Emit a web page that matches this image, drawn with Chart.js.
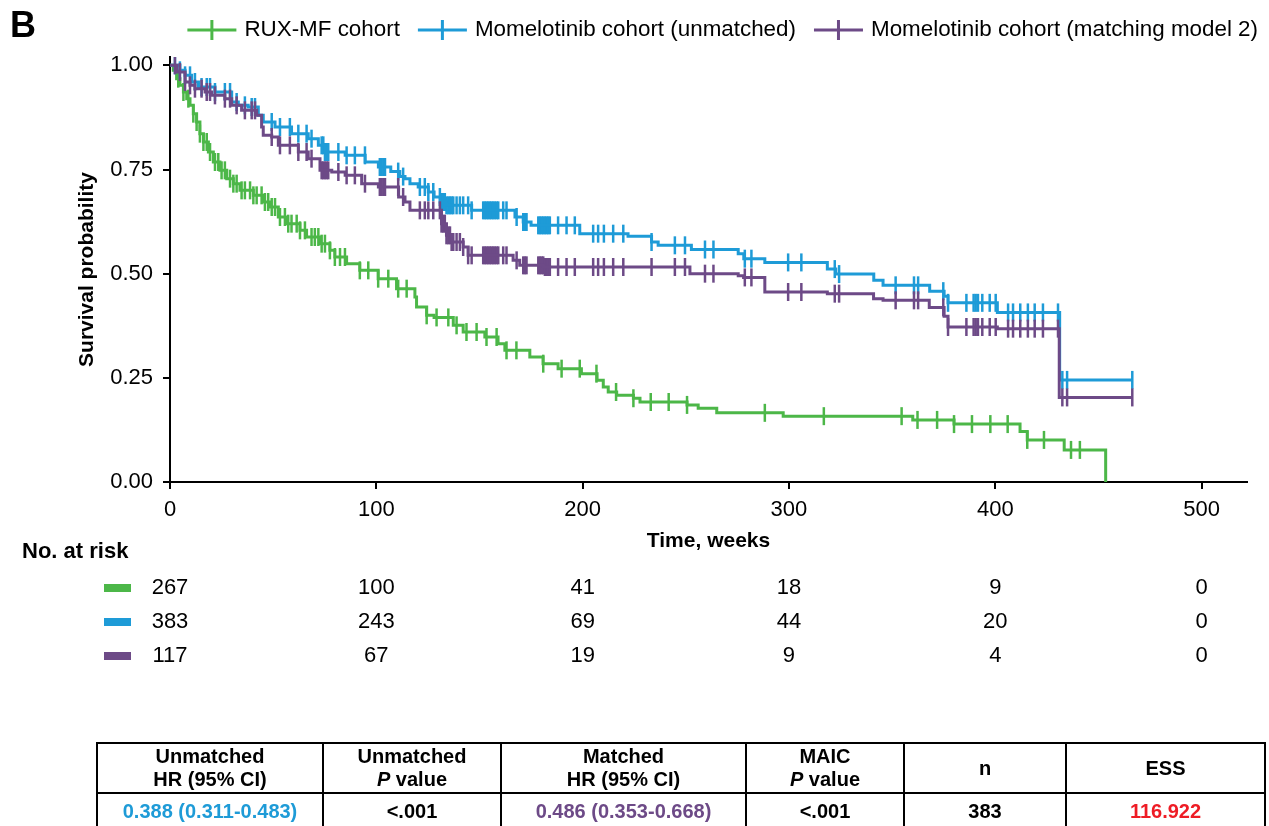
<!DOCTYPE html>
<html>
<head>
<meta charset="utf-8">
<script src="https://cdn.jsdelivr.net/npm/chart.js@4.4.0/dist/chart.umd.min.js"></script>
<style>
  body { margin: 0; background: #fff; font-family: "Liberation Sans", Arial, sans-serif; }
  #wrap { position: relative; width: 1269px; height: 826px; overflow: hidden; }
  #wrap canvas { position: absolute; left: 0; top: 0; }
  table.hr { position: absolute; left: 96px; top: 742px; border-collapse: collapse; table-layout: fixed;
             font-weight: bold; font-size: 20px; color: #000; }
  table.hr td { border: 2px solid #000; text-align: center; padding: 0; line-height: 23px; }
  table.hr tr.head td { height: 48px; }
  table.hr tr.vals td { height: 35px; }
</style>
</head>
<body>
<div id="wrap">
  <canvas id="km" width="1269" height="826"></canvas>
  <table class="hr" id="hrTable"></table>
</div>
<script>
// ---- data ----
const panelLetter = "B"
const seriesNames = ["RUX-MF cohort", "Momelotinib cohort (unmatched)", "Momelotinib cohort (matching model 2)"]
const seriesColors = ["#4cb748", "#1e9bd7", "#6d4a87"]

// [weeks, survival] after each drop
const ruxSteps = [[0,1],[1.6,0.988],[3.2,0.968],[4.8,0.952],[6.5,0.936],[8.1,0.920],[9.7,0.904],[11.3,0.884],[12.9,0.864],
  [14.5,0.836],[16.2,0.816],[18.6,0.792],[21,0.768],[24.2,0.748],[27.5,0.728],[30.7,0.716],[33.9,0.700],[40.4,0.688],
  [45.2,0.672],[48.4,0.660],[52.5,0.636],[56.5,0.620],[63,0.604],[66.2,0.588],[72.7,0.572],[77.5,0.556],[79.9,0.540],
  [85.6,0.524],[92,0.508],[100.9,0.488],[109.8,0.464],[118.7,0.444],[119.5,0.420],[124.4,0.400],[128,0.395],[137.3,0.376],
  [142.1,0.360],[152.6,0.348],[159,0.332],[162.3,0.316],[174.4,0.300],[180.8,0.284],[188.1,0.272],[199.4,0.260],[207,0.244],
  [210,0.228],[212.4,0.216],[216.5,0.208],[224.6,0.201],[227.8,0.192],[250.6,0.185],[256,0.177],[265,0.166],[297.2,0.158],
  [360,0.149],[380,0.139],[412,0.121],[415.5,0.101],[433.4,0.077],[453.5,0]]

const momSteps = [[0,1],[4.8,0.988],[7.3,0.976],[10.5,0.960],[13.8,0.948],[21.8,0.936],[29.9,0.912],[33.1,0.904],[37.9,0.900],
  [42.8,0.880],[45.2,0.864],[50.9,0.852],[58.9,0.836],[67,0.824],[71.9,0.808],[75,0.792],[84.9,0.784],[94.6,0.768],[101,0.756],
  [107,0.745],[111.4,0.733],[113.9,0.728],[116.3,0.716],[120.3,0.708],[125.2,0.696],[128,0.684],[131,0.672],[134,0.664],
  [146.2,0.652],[167.2,0.636],[171.2,0.624],[175,0.616],[198.6,0.596],[222,0.590],[233.4,0.576],[236.6,0.568],[252.7,0.558],
  [275.4,0.548],[278.1,0.536],[288.3,0.527],[318.6,0.511],[322.7,0.499],[341.1,0.484],[345.6,0.472],[368.2,0.458],
  [375.2,0.446],[377.1,0.430],[401,0.407],[431.2,0.245],[466.4,0.245]]

const matchSteps = [[0,1],[3.4,0.984],[7.3,0.960],[9.7,0.952],[12.1,0.944],[17,0.936],[20.2,0.928],[26.6,0.920],[29.9,0.904],
  [34.7,0.892],[42,0.880],[44.4,0.852],[45.2,0.832],[49.3,0.828],[52.5,0.808],[62.2,0.792],[67,0.776],[72.7,0.748],
  [78.4,0.744],[84.9,0.736],[92.9,0.716],[101,0.708],[110.8,0.684],[113.9,0.672],[116.3,0.652],[131.6,0.620],[134,0.592],
  [136.5,0.576],[142.1,0.564],[144.5,0.544],[166.3,0.532],[169.5,0.520],[181,0.516],[252,0.500],[275.4,0.495],[278,0.491],
  [288.3,0.456],[318.6,0.452],[341,0.440],[345.6,0.436],[368,0.419],[375.2,0.398],[377.1,0.372],[401,0.368],[431,0.203],
  [466.4,0.203]]

// censoring times (weeks)
const ruxCensor = [4,6.5,8.9,11.3,12.9,14.5,16.2,17.8,19.4,21.8,23.4,25,26.6,29.1,30.7,32.3,34.7,36.3,38.8,40.4,42,44.4,46,
  47.6,49.3,50.9,53.3,55.7,57.3,58.9,61.4,63,65.4,68.6,70.2,71.9,73.5,75.1,77.5,79.9,82.4,84.8,92,96.1,100.9,105.8,110.6,
  114.7,124.4,129.2,134.9,138.9,143.7,148.6,153.4,158.3,163.1,167.9,180.9,189.8,198.6,206.7,216.2,224.6,233,241.7,250.6,
  288.3,316.9,354.6,362.3,371.8,380,388.7,397.6,406,415.5,423.6,436.7,441]

const momCensor = [2.4,4.8,7.3,9.7,12.1,15.3,17.8,19.4,21.8,26.6,29.1,32.3,36.3,39.6,41.2,49.3,53.3,58.1,62.2,66.2,68.6,73.5,
  74.3,75.1,75.9,76.7,81.6,85.6,89.6,94.5,101.7,102.5,103.4,104.2,110.6,113,121.1,123.5,125.2,127.6,130.8,131.6,132.4,133.2,
  134,134.9,135.7,136.5,137.3,138.9,140.5,142.1,144.5,146.2,151.8,152.6,153.4,154.2,155,155.8,156.6,157.4,158.3,159.1,161.5,
  163.1,168,171.2,172,172.8,178.5,179.3,180.1,180.9,181.7,182.5,183.3,184.1,188.1,192.2,196.2,205.1,207.5,210.3,214.8,219.7,
  233.4,244.7,249.6,259.3,263.4,278.6,281.8,299.6,306,322.2,324.3,351.7,360.6,362.6,374.8,377.1,386,389.5,390.5,391.6,393.7,
  397.3,400.2,406.2,408.6,412.1,415.8,419.1,423.1,430.4,432.5,434.8,466.4]
const matchCensor = momCensor

const xTicks = [0, 100, 200, 300, 400, 500]
const yTicks = [0, 0.25, 0.5, 0.75, 1]

const riskTimes = [0, 100, 200, 300, 400, 500]
const riskRux = [267, 100, 41, 18, 9, 0]
const riskMom = [383, 243, 69, 44, 20, 0]
const riskMatch = [117, 67, 19, 9, 4, 0]

const hrHeaders = ["Unmatched<br>HR (95% CI)", "Unmatched<br><i>P</i> value", "Matched<br>HR (95% CI)", "MAIC<br><i>P</i> value", "n", "ESS"]
const hrValues = ["0.388 (0.311-0.483)", "<.001", "0.486 (0.353-0.668)", "<.001", "383", "116.922"]
const hrValueColors = ["#1e9bd7", "#000", "#6d4a87", "#000", "#000", "#ee1c25"]
const hrColWidths = [226, 178, 245, 158, 162, 199]

// ---- helpers ----
const FONT = "'Liberation Sans', Arial, sans-serif"
Chart.defaults.font.family = FONT
Chart.defaults.color = "#000"

function survAt(steps, t) {
    let s = steps[0][1]
    for (let i = 0; i < steps.length; i++) {
        if (steps[i][0] <= t) s = steps[i][1]
    }
    return s
}
function toPoints(steps) {
    return steps.map(function(p) { return {x: p[0], y: p[1]} })
}
function censorPoints(steps, times) {
    return times.map(function(t) { return {x: t, y: survAt(steps, t)} })
}

const allSteps = [ruxSteps, momSteps, matchSteps]
const allCensor = [ruxCensor, momCensor, matchCensor]
const drawOrder = [3, 2, 1] // purple on top

let datasets = []
for (let i = 0; i < 3; i++) {
    datasets.push({
        label: seriesNames[i],
        data: toPoints(allSteps[i]),
        stepped: true,
        borderColor: seriesColors[i],
        borderWidth: 3,
        pointRadius: 0,
        fill: false,
        order: drawOrder[i]
    })
    datasets.push({
        label: seriesNames[i] + " censored",
        data: censorPoints(allSteps[i], allCensor[i]),
        showLine: false,
        pointStyle: "line",
        rotation: 90,
        pointRadius: 9,
        pointBorderWidth: 2.5,
        borderColor: seriesColors[i],
        backgroundColor: seriesColors[i],
        order: drawOrder[i]
    })
}

// legend, panel letter and number-at-risk table
const kmExtras = {
    id: "kmExtras",
    afterDraw(chart) {
        const ctx = chart.ctx
        const xs = chart.scales.x
        ctx.save()
        ctx.fillStyle = "#000"
        ctx.textBaseline = "middle"
        ctx.textAlign = "left"
        ctx.font = "bold 36px " + FONT
        ctx.fillText(panelLetter, 10, 27)

        // legend
        ctx.font = "22.4px " + FONT
        const widths = seriesNames.map(function(n) { return ctx.measureText(n).width })
        const iconW = 49, gapIcon = 8, gapItem = 18
        let total = widths.reduce(function(a, b) { return a + b }, 0) + seriesNames.length * (iconW + gapIcon) + gapItem * (seriesNames.length - 1)
        let x = 1258 - total
        const ly = 30
        seriesNames.forEach(function(name, i) {
            ctx.strokeStyle = seriesColors[i]
            ctx.lineWidth = 3
            ctx.beginPath()
            ctx.moveTo(x, ly); ctx.lineTo(x + iconW, ly)
            ctx.moveTo(x + iconW / 2, ly - 10); ctx.lineTo(x + iconW / 2, ly + 10)
            ctx.stroke()
            ctx.fillStyle = "#000"
            ctx.fillText(name, x + iconW + gapIcon, ly)
            x += iconW + gapIcon + widths[i] + gapItem
        })

        // number at risk
        ctx.font = "bold 22px " + FONT
        ctx.fillText("No. at risk", 22, 552)
        ctx.font = "22px " + FONT
        ctx.textAlign = "center"
        const rows = [riskRux, riskMom, riskMatch]
        rows.forEach(function(row, i) {
            const y = 588 + 34 * i
            ctx.fillStyle = seriesColors[i]
            ctx.fillRect(104, y - 4, 27, 8)
            ctx.fillStyle = "#000"
            row.forEach(function(v, j) {
                ctx.fillText(String(v), xs.getPixelForValue(riskTimes[j]), y)
            })
        })
        ctx.restore()
    }
}

let ctxKm = document.getElementById("km").getContext("2d")
let kmChart = new Chart(ctxKm, {
    type: "line",
    data: { datasets: datasets },
    options: {
        responsive: false,
        animation: false,
        devicePixelRatio: 1,
        layout: { padding: { left: 70, right: 22, top: 57, bottom: 264 } },
        plugins: { legend: { display: false }, tooltip: { enabled: false } },
        scales: {
            x: {
                type: "linear",
                min: 0,
                max: 522,
                afterBuildTicks: function(scale) { scale.ticks = xTicks.map(function(v) { return {value: v} }) },
                afterFit: function(scale) { scale.height = 80 },
                ticks: { font: { size: 22 }, color: "#000", padding: 8, maxRotation: 0 },
                grid: { drawOnChartArea: false, drawTicks: true, tickLength: 7, color: "#000", lineWidth: 2 },
                border: { color: "#000", width: 2 },
                title: { display: true, text: "Time, weeks", font: { size: 21, weight: "bold" }, color: "#000", padding: { top: 0, bottom: 8 } }
            },
            y: {
                type: "linear",
                min: 0,
                max: 1.02,
                afterBuildTicks: function(scale) { scale.ticks = yTicks.map(function(v) { return {value: v} }) },
                afterFit: function(scale) { scale.width = 100 },
                ticks: { font: { size: 22 }, color: "#000", padding: 10, callback: function(v) { return Number(v).toFixed(2) } },
                grid: { drawOnChartArea: false, drawTicks: true, tickLength: 7, color: "#000", lineWidth: 2 },
                border: { color: "#000", width: 2 },
                title: { display: true, text: "Survival probability", font: { size: 21, weight: "bold" }, color: "#000", padding: { top: 5, bottom: 0 } }
            }
        }
    },
    plugins: [kmExtras]
})

// HR summary table
let table = document.getElementById("hrTable")
let colgroup = document.createElement("colgroup")
hrColWidths.forEach(function(w) {
    let c = document.createElement("col")
    c.style.width = w + "px"
    colgroup.appendChild(c)
})
table.appendChild(colgroup)
let headRow = table.insertRow()
headRow.className = "head"
hrHeaders.forEach(function(h) { headRow.insertCell().innerHTML = h })
let valRow = table.insertRow()
valRow.className = "vals"
hrValues.forEach(function(v, i) {
    let cell = valRow.insertCell()
    cell.textContent = v
    cell.style.color = hrValueColors[i]
})
</script>
</body>
</html>
